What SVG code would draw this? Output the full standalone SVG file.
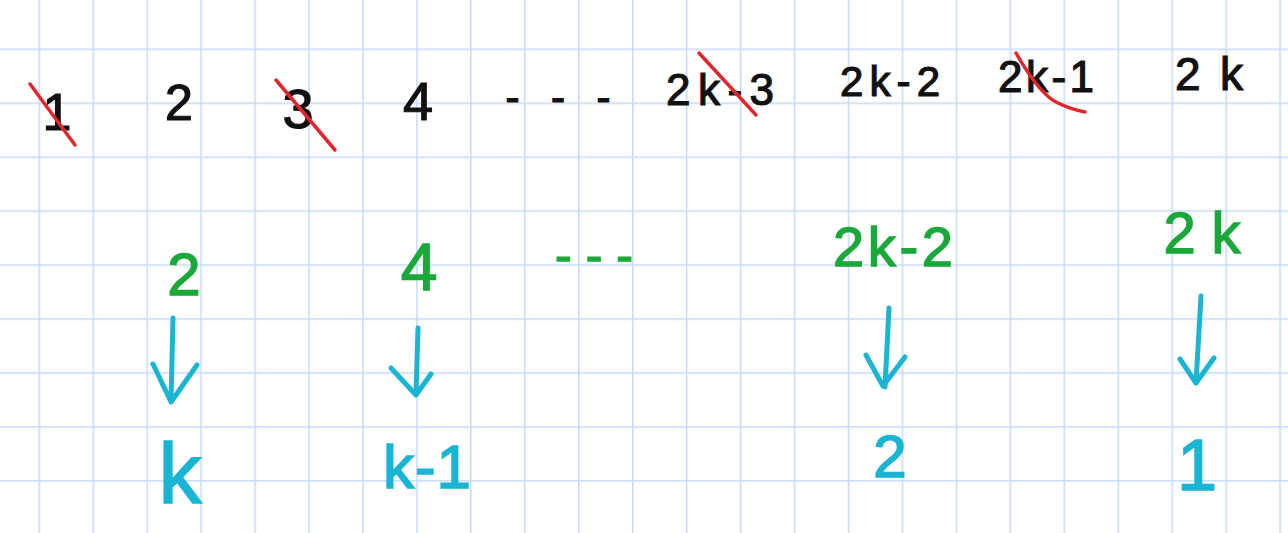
<svg xmlns="http://www.w3.org/2000/svg" width="1288" height="533" viewBox="0 0 1288 533">
<defs>
<pattern id="grid" x="38.5" y="48.5" width="53.95" height="53.95" patternUnits="userSpaceOnUse">
<path d="M0 0V53.95M0 0H53.95" fill="none" stroke="#c6daf6" stroke-width="3"/>
</pattern>
</defs>
<style>
text{font-family:"Liberation Sans","DejaVu Sans",sans-serif;text-anchor:middle}
.blk{fill:#111;stroke:#111;stroke-width:1.2}
.grn{fill:#1ba83a;stroke:#1ba83a;stroke-width:1.4}
.cyn{fill:#19b5d3;stroke:#19b5d3;stroke-width:1.6}
.strike{fill:none;stroke:#e3262c;stroke-width:3.5;stroke-linecap:round}
.arr{fill:none;stroke:#19b5d3;stroke-width:5;stroke-linecap:round;stroke-linejoin:round}
</style>
<rect width="1288" height="533" fill="#ffffff"/>
<rect width="1288" height="533" fill="url(#grid)"/>

<g id="top-1"><text class="blk" x="57" y="130" font-size="52">1</text><path class="strike" d="M30 84L75 145"/></g>
<g id="top-2"><text class="blk" x="179" y="120" font-size="50">2</text></g>
<g id="top-3"><text class="blk" x="298" y="128" font-size="56">3</text><path class="strike" d="M276 80L335 150"/></g>
<g id="top-4"><text class="blk" x="418" y="120" font-size="54">4</text></g>
<g id="top-dots"><text class="blk" x="558" y="112" font-size="42" textLength="105" lengthAdjust="spacing">- - -</text></g>
<g id="top-2k-3"><text class="blk" x="720" y="105" font-size="44" textLength="108" lengthAdjust="spacing">2k-3</text><path class="strike" d="M699 53L756 115"/></g>
<g id="top-2k-2"><text class="blk" x="890" y="96" font-size="42" textLength="100" lengthAdjust="spacing">2k-2</text></g>
<g id="top-2k-1"><text class="blk" x="1046" y="92" font-size="44" textLength="96" lengthAdjust="spacing">2k-1</text><path class="strike" d="M1016 53Q1040 95 1058 103Q1070 109 1085 112"/></g>
<g id="top-2k"><text class="blk" x="1209" y="90" font-size="46" textLength="68" lengthAdjust="spacing">2k</text></g>

<g id="g-2"><text class="grn" x="184" y="295" font-size="60">2</text></g>
<g id="g-4"><text class="grn" x="419" y="290" font-size="66">4</text></g>
<g id="g-dots"><text class="grn" x="594" y="272" font-size="50" textLength="78" lengthAdjust="spacing">- - -</text></g>
<g id="g-2k-2"><text class="grn" x="893" y="266" font-size="56" textLength="120" lengthAdjust="spacing">2k-2</text></g>
<g id="g-2k"><text class="grn" x="1202" y="253" font-size="58" textLength="77" lengthAdjust="spacing">2k</text></g>

<g id="connectors">
<path class="arr" d="M173 318L171 401M153 364L171 402L197 365"/>
<path class="arr" d="M418 328L416 394M391 368L416 395L431 374"/>
<path class="arr" d="M889 308L885 387M866 355L883 386L905 357"/>
<path class="arr" d="M1201 296L1196 383M1180 359L1196 383L1214 358"/>
</g>

<g id="c-k"><text class="cyn" x="180" y="503" font-size="86">k</text></g>
<g id="c-k-1"><text class="cyn" x="427" y="488" font-size="62" textLength="88" lengthAdjust="spacing">k-1</text></g>
<g id="c-2"><text class="cyn" x="890" y="477" font-size="60">2</text></g>
<g id="c-1"><text class="cyn" x="1197" y="490" font-size="72">1</text></g>
</svg>
